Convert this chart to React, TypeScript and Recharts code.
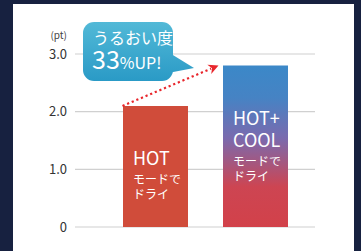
import { BarChart, Bar, XAxis, YAxis, CartesianGrid, Cell, LabelList, ReferenceLine } from "recharts";

const categories = ["HOT", "HOT+COOL"];
const values = [2.1, 2.8];
const yTicks = [0, 1, 2, 3];
const bigLabels = [["HOT"], ["HOT+", "COOL"]];
const subLabels = ["モードで", "ドライ"];
const unitLabel = "(pt)";
const bubbleTop = "うるおい度";
const bubbleNum = "33";
const bubbleRest = "%UP!";

const data = categories.map((name, i) => ({ name, value: values[i] }));

const FONT = '"Noto Sans CJK JP", "Noto Sans", sans-serif';
const BAR = 65;

const BarText = (props: any) => {
  const vb = props.viewBox || props;
  const idx = props.index;
  const x = vb.x + 10;
  let y = vb.y + 59;
  const out: any[] = [];
  bigLabels[idx].forEach((t, i) => {
    if (i > 0) y += 22;
    out.push(
      <text key={"b" + i} x={x} y={y} fill="#fff" fontSize={18} fontFamily={FONT}>
        {t}
      </text>
    );
  });
  y += 19;
  subLabels.forEach((t, i) => {
    if (i > 0) y += 15;
    out.push(
      <text key={"s" + i} x={x} y={y} fill="#fff" fontSize={12} fontFamily={FONT}>
        {t}
      </text>
    );
  });
  return <g>{out}</g>;
};

const Arrow = (props: any) => {
  const x1 = props.x1 - BAR / 2;
  const y1 = props.y1;
  const x2 = props.x2 - BAR / 2 - 4;
  const y2 = props.y2;
  const dx = x2 - x1;
  const dy = y2 - y1;
  const len = Math.sqrt(dx * dx + dy * dy);
  const ux = dx / len;
  const uy = dy / len;
  const bx = x2 - ux * 10;
  const by = y2 - uy * 10;
  const px = -uy;
  const py = ux;
  return (
    <g>
      <line
        x1={x1}
        y1={y1}
        x2={bx + ux * 2}
        y2={by + uy * 2}
        stroke="#e8262c"
        strokeWidth={2.2}
        strokeDasharray="2.2 2.8"
      />
      <polygon
        points={`${x2},${y2} ${bx + px * 5},${by + py * 5} ${bx + ux * 3},${by + uy * 3} ${bx - px * 5},${by - py * 5}`}
        fill="#e8262c"
      />
    </g>
  );
};

export default function App() {
  return (
    <div
      style={{
        position: "absolute",
        left: 0,
        top: 0,
        width: 361,
        height: 251,
        background: "#172140",
        fontFamily: FONT,
      }}
    >
      <div style={{ position: "absolute", left: 13, top: 4, width: 341, height: 247, background: "#fff" }} />
      <div style={{ position: "absolute", left: 0, top: 0 }}>
        <BarChart width={361} height={251} data={data} margin={{ top: 54, right: 46, bottom: 24, left: 35 }}>
          <defs>
            <linearGradient id="coolGrad" x1="0" y1="0" x2="0" y2="1">
              <stop offset="0" stopColor="#3b88c8" />
              <stop offset="0.2" stopColor="#4683c4" />
              <stop offset="0.45" stopColor="#7a6aae" />
              <stop offset="0.75" stopColor="#cd4552" />
              <stop offset="1" stopColor="#d2414a" />
            </linearGradient>
          </defs>
          <CartesianGrid vertical={false} stroke="#d0d0d0" strokeWidth={1.2} />
          <XAxis
            dataKey="name"
            tick={false}
            tickLine={false}
            height={0}
            axisLine={{ stroke: "#555", strokeWidth: 1.5 }}
            padding={{ left: 30, right: 10 }}
          />
          <YAxis
            width={40}
            domain={[0, 3]}
            ticks={yTicks}
            tickFormatter={(v: number) => (v === 0 ? "0" : v.toFixed(1))}
            axisLine={false}
            tickLine={false}
            tickSize={0}
            tickMargin={8}
            tick={{ fill: "#333", fontSize: 13, fontFamily: FONT }}
          />
          <Bar dataKey="value" barSize={BAR} isAnimationActive={false}>
            <Cell fill="#d04c3a" />
            <Cell fill="url(#coolGrad)" />
            <LabelList dataKey="value" content={BarText} />
          </Bar>
          <ReferenceLine
            segment={[
              { x: categories[0], y: values[0] },
              { x: categories[1], y: values[1] },
            ]}
            shape={Arrow}
          />
        </BarChart>
      </div>
      <svg
        width={361}
        height={251}
        style={{ position: "absolute", left: 0, top: 0, pointerEvents: "none" }}
      >
        <defs>
          <linearGradient id="bubbleGrad" gradientUnits="userSpaceOnUse" x1="0" y1="22" x2="0" y2="81">
            <stop offset="0" stopColor="#52b9d7" />
            <stop offset="1" stopColor="#2a9ac6" />
          </linearGradient>
        </defs>
        <text x={67} y={39} textAnchor="end" fontSize={10} fill="#444" fontFamily={FONT}>
          {unitLabel}
        </text>
        <rect x={83} y={22} width={90} height={59} rx={11} fill="url(#bubbleGrad)" />
        <polygon points="168,52 194,68 168,73" fill="url(#bubbleGrad)" />
        <text x={93} y={44} fontSize={16} fill="#fff" fontFamily={FONT}>
          {bubbleTop}
        </text>
        <text x={92} y={69} fill="#fff" fontFamily={FONT}>
          <tspan fontSize={25}>{bubbleNum}</tspan>
          <tspan fontSize={16}>{bubbleRest}</tspan>
        </text>
      </svg>
    </div>
  );
}
